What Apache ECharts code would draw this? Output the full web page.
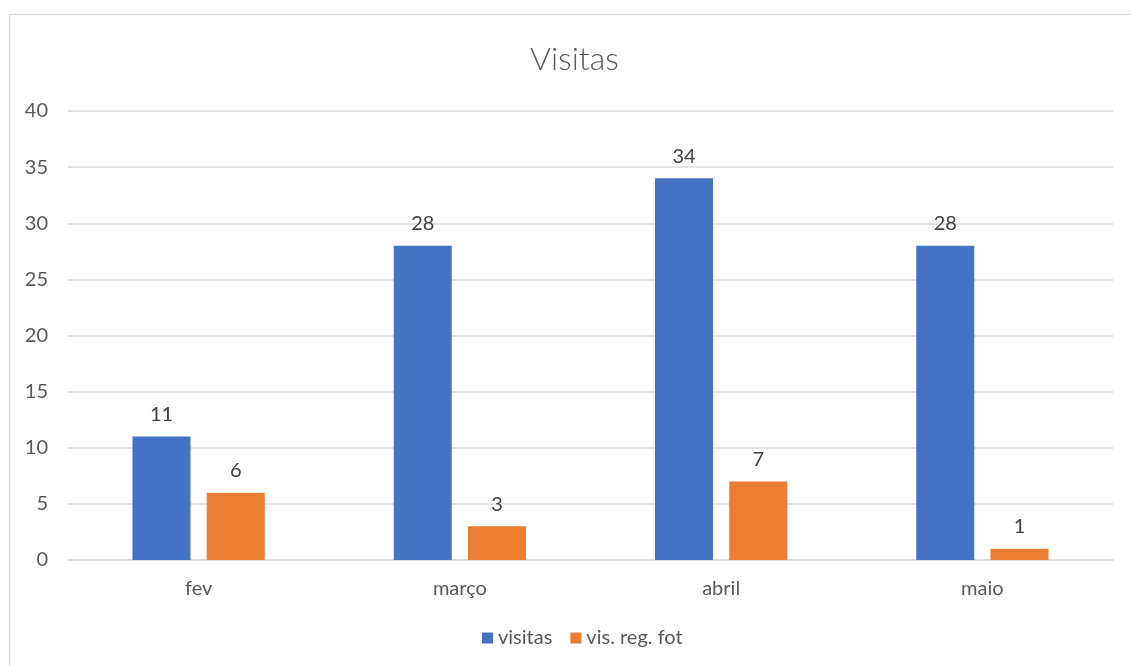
<!DOCTYPE html>
<html>
<head>
<meta charset="utf-8">
<script src="https://cdn.jsdelivr.net/npm/echarts@6/dist/echarts.min.js"></script>
<style>
html,body{margin:0;padding:0;background:#fff;}
#c{width:1131px;height:666px;}
</style>
</head>
<body>
<div id="c"></div>
<script>
const categories = ['fev', 'março', 'abril', 'maio'];
const visitas = [11, 28, 34, 28];
const visRegFot = [6, 3, 7, 1];
const seriesNames = ['visitas', 'vis. reg. fot'];
const yTicks = {min: 0, max: 40, interval: 5};

const chart = echarts.init(document.getElementById('c'));
const font = 'Lato, "Open Sans", sans-serif';
chart.setOption({
  animation: false,
  backgroundColor: '#fff',
  graphic: [{
    type: 'rect', left: 7, top: 12, silent: true,
    shape: {width: 1200, height: 700},
    style: {fill: 'none', stroke: '#d9d9d9', lineWidth: 1.5}
  }],
  title: {
    text: 'Visitas', left: 525, top: 39,
    textStyle: {fontFamily: font, fontSize: 32, fontWeight: 300, color: '#595959'}
  },
  legend: {
    data: seriesNames, bottom: 13, left: 477,
    itemWidth: 11, itemHeight: 11, itemGap: 18, icon: 'rect',
    textStyle: {fontFamily: font, fontSize: 20, color: '#595959'}
  },
  grid: {left: 68, right: 18, top: 111, bottom: 106, containLabel: false},
  xAxis: {
    type: 'category', data: categories,
    axisLine: {lineStyle: {color: '#d9d9d9', width: 1.5}},
    axisTick: {show: false},
    axisLabel: {fontFamily: font, fontSize: 20, color: '#595959', margin: 19}
  },
  yAxis: {
    type: 'value', min: yTicks.min, max: yTicks.max, interval: yTicks.interval,
    axisLine: {show: false}, axisTick: {show: false},
    splitLine: {lineStyle: {color: '#d9d9d9', width: 1.5}},
    axisLabel: {fontFamily: font, fontSize: 20, color: '#595959', margin: 20}
  },
  series: [
    {name: seriesNames[0], type: 'bar', data: visitas, barWidth: 58, barGap: '28%',
     itemStyle: {color: '#4472c4'},
     label: {show: true, position: 'top', distance: 12, fontFamily: font, fontSize: 20, color: '#404040'}},
    {name: seriesNames[1], type: 'bar', data: visRegFot, barWidth: 58,
     itemStyle: {color: '#ed7d31'},
     label: {show: true, position: 'top', distance: 12, fontFamily: font, fontSize: 20, color: '#404040'}}
  ]
});
</script>
</body>
</html>
